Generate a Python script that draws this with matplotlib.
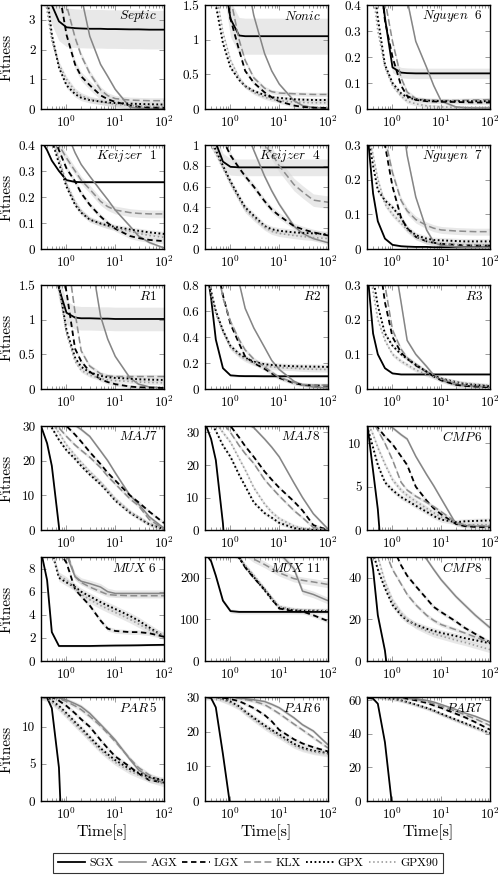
import numpy as np
import matplotlib
matplotlib.use("Agg")
import matplotlib.pyplot as plt
from matplotlib.lines import Line2D
from matplotlib.ticker import FuncFormatter, LogLocator, NullFormatter, FixedLocator

plt.rcParams['font.family'] = ['cmr10', 'DejaVu Serif']
plt.rcParams['mathtext.fontset'] = 'cm'
plt.rcParams['axes.formatter.use_mathtext'] = True
plt.rcParams['axes.unicode_minus'] = False

# ---------------- data ----------------
T = [0.3, 0.4, 0.5, 0.7, 1, 1.5, 2, 3, 5, 7, 10, 20, 30, 50, 100]
SERIES = ["SGX", "AGX", "LGX", "KLX", "GPX", "GPX90"]

SEPTIC = [
    [4.2, 4.0, 3.5, 2.95, 2.75, 2.72, 2.71, 2.7, 2.7, 2.69, 2.69, 2.68, 2.68, 2.67, 2.67],
    [5, 5, 5, 5, 5, 5, 3.8, 2.45, 1.5, 1.1, 0.66, 0.06, 0.03, 0.02, 0.02],
    [5, 5, 5, 4, 2.5, 1.5, 1.1, 0.8, 0.46, 0.33, 0.24, 0.12, 0.08, 0.05, 0.04],
    [5, 5, 5, 5, 3.5, 2.4, 1.8, 1.2, 0.65, 0.45, 0.35, 0.3, 0.29, 0.28, 0.28],
    [5, 3.8, 2.5, 1.4, 0.8, 0.5, 0.38, 0.3, 0.25, 0.22, 0.2, 0.18, 0.17, 0.16, 0.15],
    [5, 3.3, 2.3, 1.5, 1.0, 0.6, 0.45, 0.33, 0.25, 0.2, 0.16, 0.12, 0.1, 0.09, 0.08],
]
SEPTIC_BAND = [0.65, 0.05, 0.15, 0.1, 0.1, 0.1]

NONIC = [
    [2, 2, 2, 2, 1.3, 1.06, 1.05, 1.05, 1.05, 1.05, 1.05, 1.05, 1.05, 1.05, 1.05],
    [3, 3, 3, 3, 3, 3, 2.0, 1.35, 0.8, 0.55, 0.36, 0.12, 0.05, 0.02, 0.01],
    [3, 3, 3, 2, 1.3, 0.85, 0.55, 0.38, 0.24, 0.17, 0.11, 0.05, 0.03, 0.02, 0.015],
    [3, 3, 3, 3, 1.6, 1.0, 0.7, 0.45, 0.3, 0.25, 0.23, 0.22, 0.215, 0.21, 0.21],
    [3, 1.8, 1.5, 0.95, 0.6, 0.42, 0.33, 0.26, 0.2, 0.17, 0.16, 0.14, 0.135, 0.13, 0.13],
    [3, 2.2, 1.7, 1.1, 0.7, 0.45, 0.33, 0.24, 0.17, 0.14, 0.12, 0.1, 0.095, 0.09, 0.09],
]
NONIC_BAND = [0.26, 0.02, 0.03, 0.03, 0.03, 0.03]

NGUYEN6 = [
    [0.6, 0.6, 0.6, 0.35, 0.16, 0.14, 0.138, 0.137, 0.137, 0.137, 0.137, 0.137, 0.137, 0.137, 0.137],
    [0.6, 0.6, 0.6, 0.6, 0.6, 0.6, 0.42, 0.26, 0.16, 0.09, 0.03, 0.008, 0.005, 0.004, 0.004],
    [0.6, 0.6, 0.6, 0.34, 0.2, 0.09, 0.05, 0.035, 0.03, 0.029, 0.028, 0.027, 0.026, 0.025, 0.025],
    [0.6, 0.6, 0.6, 0.42, 0.26, 0.12, 0.065, 0.04, 0.035, 0.034, 0.033, 0.033, 0.034, 0.035, 0.036],
    [0.6, 0.5, 0.35, 0.17, 0.1, 0.06, 0.045, 0.037, 0.033, 0.031, 0.03, 0.03, 0.03, 0.03, 0.03],
    [0.6, 0.45, 0.3, 0.16, 0.09, 0.05, 0.03, 0.02, 0.012, 0.01, 0.008, 0.006, 0.006, 0.005, 0.005],
]
NGUYEN6_BAND = [0.02, 0.005, 0.008, 0.008, 0.008, 0.008]

KEIJZER1 = [
    [0.42, 0.38, 0.34, 0.3, 0.265, 0.258, 0.257, 0.257, 0.257, 0.257, 0.257, 0.257, 0.257, 0.257, 0.257],
    [0.45, 0.45, 0.45, 0.45, 0.45, 0.37, 0.325, 0.28, 0.225, 0.19, 0.15, 0.088, 0.05, 0.025, 0.004],
    [0.45, 0.45, 0.45, 0.38, 0.31, 0.26, 0.215, 0.17, 0.125, 0.1, 0.078, 0.05, 0.042, 0.035, 0.03],
    [0.45, 0.45, 0.45, 0.4, 0.35, 0.3, 0.265, 0.23, 0.183, 0.163, 0.15, 0.14, 0.137, 0.135, 0.135],
    [0.5, 0.46, 0.42, 0.33, 0.24, 0.17, 0.14, 0.113, 0.098, 0.09, 0.085, 0.075, 0.07, 0.064, 0.058],
    [0.5, 0.46, 0.43, 0.35, 0.25, 0.18, 0.145, 0.115, 0.097, 0.088, 0.08, 0.068, 0.06, 0.052, 0.045],
]
KEIJZER1_BAND = [0.005, 0.005, 0.01, 0.015, 0.01, 0.01]

KEIJZER4 = [
    [1.3, 1.15, 1.02, 0.84, 0.79, 0.785, 0.785, 0.785, 0.785, 0.785, 0.785, 0.785, 0.785, 0.785, 0.785],
    [1.3, 1.3, 1.3, 1.3, 1.3, 1.3, 1.15, 0.95, 0.7, 0.56, 0.43, 0.22, 0.15, 0.1, 0.06],
    [1.2, 1.2, 1.2, 1.05, 0.9, 0.78, 0.7, 0.6, 0.46, 0.38, 0.32, 0.22, 0.19, 0.16, 0.13],
    [1.2, 1.2, 1.2, 1.2, 1.2, 1.2, 1.2, 1.1, 1.0, 0.92, 0.8, 0.62, 0.55, 0.47, 0.45],
    [1.2, 1.05, 0.95, 0.8, 0.65, 0.5, 0.4, 0.32, 0.22, 0.19, 0.175, 0.16, 0.155, 0.15, 0.14],
    [1.2, 1.0, 0.92, 0.78, 0.63, 0.48, 0.38, 0.3, 0.21, 0.17, 0.15, 0.13, 0.12, 0.11, 0.1],
]
KEIJZER4_BAND = [0.08, 0.02, 0.03, 0.06, 0.03, 0.03]

NGUYEN7 = [
    [0.35, 0.16, 0.08, 0.03, 0.012, 0.008, 0.007, 0.006, 0.006, 0.005, 0.005, 0.005, 0.005, 0.005, 0.005],
    [0.4, 0.4, 0.4, 0.4, 0.4, 0.4, 0.27, 0.15, 0.055, 0.02, 0.01, 0.006, 0.005, 0.005, 0.005],
    [0.35, 0.35, 0.35, 0.3, 0.18, 0.09, 0.06, 0.035, 0.022, 0.018, 0.015, 0.012, 0.011, 0.01, 0.01],
    [0.4, 0.4, 0.4, 0.32, 0.22, 0.14, 0.11, 0.085, 0.068, 0.06, 0.055, 0.052, 0.051, 0.05, 0.05],
    [0.35, 0.24, 0.17, 0.14, 0.12, 0.09, 0.06, 0.04, 0.03, 0.026, 0.025, 0.023, 0.022, 0.022, 0.022],
    [0.35, 0.27, 0.2, 0.13, 0.1, 0.075, 0.055, 0.035, 0.022, 0.017, 0.015, 0.013, 0.012, 0.012, 0.012],
]
NGUYEN7_BAND = [0.003, 0.005, 0.008, 0.01, 0.008, 0.008]

R1 = [
    [2, 2, 2, 1.45, 1.1, 1.03, 1.02, 1.02, 1.015, 1.015, 1.01, 1.01, 1.01, 1.01, 1.01],
    [2, 2, 2, 2, 2, 2, 2, 2, 1.05, 0.72, 0.47, 0.16, 0.07, 0.03, 0.015],
    [2, 2, 2, 2, 1.4, 0.58, 0.4, 0.25, 0.14, 0.1, 0.07, 0.035, 0.025, 0.02, 0.015],
    [2, 2, 2, 2, 2, 1.1, 0.55, 0.33, 0.22, 0.19, 0.18, 0.18, 0.18, 0.18, 0.18],
    [2, 2, 2, 1.5, 0.85, 0.45, 0.32, 0.24, 0.19, 0.17, 0.16, 0.15, 0.14, 0.135, 0.13],
    [2, 2, 2, 1.45, 0.8, 0.4, 0.27, 0.2, 0.15, 0.13, 0.12, 0.11, 0.1, 0.095, 0.09],
]
R1_BAND = [0.17, 0.02, 0.03, 0.03, 0.03, 0.03]

R2 = [
    [1, 0.7, 0.38, 0.16, 0.105, 0.1, 0.099, 0.099, 0.098, 0.098, 0.098, 0.098, 0.098, 0.098, 0.098],
    [1, 1, 1, 1, 1, 0.82, 0.62, 0.47, 0.32, 0.22, 0.15, 0.06, 0.03, 0.015, 0.008],
    [1, 1, 1, 0.72, 0.5, 0.35, 0.25, 0.2, 0.155, 0.12, 0.085, 0.045, 0.032, 0.028, 0.025],
    [1, 1, 1, 0.7, 0.52, 0.38, 0.3, 0.23, 0.17, 0.13, 0.09, 0.05, 0.035, 0.03, 0.03],
    [1, 0.75, 0.6, 0.45, 0.33, 0.27, 0.24, 0.21, 0.19, 0.185, 0.18, 0.175, 0.173, 0.172, 0.17],
    [1, 0.72, 0.58, 0.44, 0.32, 0.26, 0.23, 0.2, 0.18, 0.17, 0.165, 0.16, 0.155, 0.152, 0.15],
]
R2_BAND = [0.01, 0.01, 0.015, 0.015, 0.02, 0.02]

R3 = [
    [0.35, 0.16, 0.1, 0.06, 0.045, 0.042, 0.042, 0.042, 0.042, 0.042, 0.042, 0.042, 0.042, 0.042, 0.042],
    [0.4, 0.4, 0.4, 0.4, 0.4, 0.25, 0.14, 0.1, 0.065, 0.04, 0.025, 0.012, 0.009, 0.007, 0.005],
    [0.4, 0.4, 0.4, 0.25, 0.15, 0.105, 0.088, 0.068, 0.05, 0.036, 0.025, 0.012, 0.009, 0.007, 0.005],
    [0.4, 0.4, 0.4, 0.3, 0.17, 0.115, 0.09, 0.072, 0.05, 0.04, 0.03, 0.016, 0.012, 0.01, 0.007],
    [0.4, 0.32, 0.24, 0.16, 0.125, 0.1, 0.087, 0.07, 0.05, 0.038, 0.03, 0.02, 0.015, 0.012, 0.008],
    [0.4, 0.28, 0.2, 0.14, 0.1, 0.08, 0.07, 0.055, 0.042, 0.035, 0.028, 0.02, 0.017, 0.014, 0.01],
]
R3_BAND = [0.003, 0.005, 0.006, 0.006, 0.006, 0.006]

MAJ7 = [
    [30, 25, 18.5, 1, -30, -30, -30, -30, -30, -30, -30, -30, -30, -30, -30],
    [31, 31, 31, 31, 31, 30.2, 29, 27, 22.8, 20, 16.5, 10, 7.5, 3.8, 0.5],
    [31, 31, 31, 31, 30, 27.5, 25.5, 22.5, 19, 16.5, 14.3, 10, 8, 5.3, 2],
    [31, 31, 31, 29.5, 27, 24.5, 23, 21, 18, 15.5, 13.3, 9, 7, 3, 0.3],
    [31, 31, 29.5, 26, 23, 20.5, 18.5, 16, 13.2, 11, 8.5, 5, 3.5, 1.6, 0.3],
    [31, 31, 31, 28, 24.5, 21.5, 19.5, 16.8, 13.8, 11.5, 9, 5.3, 3.7, 1.8, 0.4],
]
MAJ7_BAND = [0.4, 0.5, 0.5, 0.5, 0.6, 0.6]

MAJ8 = [
    [33, 28, 21.5, 2, -30, -30, -30, -30, -30, -30, -30, -30, -30, -30, -30],
    [33, 33, 33, 33, 33, 33, 33, 31.5, 28, 25.5, 22.5, 14.5, 10, 5, 0.3],
    [33, 33, 33, 33, 32, 28.5, 25.8, 22.5, 18, 15.5, 13, 8.8, 6, 1.5, 0],
    [33, 33, 33, 33, 30, 26, 23.5, 20.5, 15.5, 13, 10.5, 6, 3.8, 0.8, 0],
    [33, 33, 30.5, 26, 22.5, 17, 13.5, 8.5, 5.2, 3.8, 2.2, 0.6, 0.2, 0.05, 0],
    [33, 33, 33, 30, 27, 22, 18.5, 13, 8, 5.5, 3.5, 1.2, 0.5, 0.2, 0],
]
MAJ8_BAND = [0.4, 0.5, 0.5, 0.5, 0.6, 0.6]

CMP6 = [
    [12.5, 6.8, 2.4, -8, -8, -8, -8, -8, -8, -8, -8, -8, -8, -8, -8],
    [12.5, 12.5, 12.5, 12.5, 11.8, 11, 10.5, 8.5, 6.4, 5.1, 3.6, 0.7, 0.5, 0.45, 0.4],
    [12.5, 12.3, 11.8, 10.8, 9.9, 8.5, 7.5, 5, 3.4, 2.5, 1.8, 0.7, 0.45, 0.35, 0.3],
    [12.5, 12.5, 11.5, 10, 8.1, 5.5, 4.6, 3.9, 3.2, 2.7, 2.1, 0.9, 0.6, 0.5, 0.5],
    [12, 9.5, 7.5, 5.5, 4.6, 3.8, 3.4, 2.8, 2.1, 1.6, 1.2, 0.9, 1.0, 1.05, 1.1],
    [12.5, 11, 9.5, 7.6, 5.8, 4.6, 4, 3.3, 2.5, 2, 1.5, 0.8, 0.6, 0.6, 0.6],
]
CMP6_BAND = [0.2, 0.2, 0.2, 0.2, 0.3, 0.3]

MUX6 = [
    [9.5, 7, 2.5, 1.3, 1.3, 1.3, 1.3, 1.3, 1.32, 1.33, 1.34, 1.35, 1.36, 1.38, 1.4],
    [9.5, 9.5, 9.5, 9.5, 9.2, 7.3, 6.9, 6.7, 6.4, 6.0, 5.85, 5.85, 5.85, 5.85, 5.85],
    [9.5, 9.5, 9.5, 9.5, 8.5, 6.2, 5.6, 4.8, 3.5, 2.8, 2.6, 2.5, 2.5, 2.4, 2.1],
    [9.5, 9.5, 9.5, 9.5, 9.5, 7.3, 6.8, 6.4, 6.0, 5.75, 5.7, 5.65, 5.65, 5.65, 5.65],
    [9.5, 9.5, 9.5, 7.2, 6.8, 6.4, 6.0, 5.6, 5.1, 4.8, 4.5, 3.9, 3.5, 2.9, 2.1],
    [9.5, 9.5, 9.5, 7.4, 7.0, 6.3, 5.8, 5.3, 4.8, 4.5, 4.2, 3.6, 3.2, 2.7, 2.2],
]
MUX6_BAND = [0.1, 0.3, 0.2, 0.2, 0.3, 0.3]

MUX11 = [
    [260, 240, 205, 145, 120, 118, 118, 118, 118, 118, 118, 118, 118, 118, 118],
    [260, 260, 260, 260, 260, 260, 260, 260, 260, 260, 260, 222, 168, 160, 145],
    [260, 260, 260, 260, 260, 250, 225, 200, 172, 150, 126, 120, 119, 110, 96],
    [260, 260, 260, 260, 260, 260, 260, 245, 232, 222, 212, 198, 194, 190, 184],
    [260, 260, 260, 260, 258, 248, 226, 202, 170, 148, 128, 122, 121, 121, 120],
    [260, 260, 260, 260, 260, 250, 230, 206, 174, 152, 131, 124, 123, 122, 122],
]
MUX11_BAND = [5, 8, 5, 8, 5, 5]

CMP8 = [
    [62, 44, 22, 5, -25, -25, -25, -25, -25, -25, -25, -25, -25, -25, -25],
    [55, 55, 55, 55, 55, 55, 55, 55, 49, 44, 39, 31, 27, 22, 16],
    [55, 55, 55, 55, 55, 46, 41, 36, 30, 26, 23.5, 19, 16, 13, 9],
    [55, 55, 55, 53, 44, 37, 32, 27, 22, 19.5, 17.5, 15, 13.5, 11.5, 9],
    [55, 52, 44, 35, 27, 22, 19.5, 17.5, 15.5, 14.5, 13.5, 12, 11, 10, 8.5],
    [55, 55, 50, 38, 29, 23, 20, 17, 14.5, 13, 12, 10, 9, 7.5, 5.5],
]
CMP8_BAND = [1, 1, 1, 1, 1.5, 1.5]

PAR5 = [
    [14, 13.9, 12.5, 4.5, -20, -20, -20, -20, -20, -20, -20, -20, -20, -20, -20],
    [14, 14, 14, 13.9, 13.6, 13.1, 12.7, 11.8, 10.3, 9.3, 8.2, 5.6, 4.2, 3.2, 2.4],
    [14, 14, 14, 13.5, 12.8, 11.8, 11, 10, 8.2, 7.1, 6, 4.6, 3.7, 2.8, 2.5],
    [14, 14, 14, 13.8, 13.4, 12.8, 12.3, 11.4, 10.1, 9.1, 8.0, 5.7, 4.5, 3.5, 2.6],
    [14, 14, 13.5, 12.8, 11.8, 10.6, 9.8, 8.6, 7.1, 6.3, 5.5, 4.3, 3.8, 3.2, 2.8],
    [14, 13.8, 13.3, 12.5, 11.5, 10.3, 9.5, 8.3, 6.8, 6, 5.2, 4.0, 3.5, 2.9, 2.3],
]
PAR5_BAND = [0.2, 0.3, 0.3, 0.3, 0.4, 0.4]

PAR6 = [
    [30, 29.7, 27, 13.5, -2, -30, -30, -30, -30, -30, -30, -30, -30, -30, -30],
    [30, 30, 30, 30, 30, 29.8, 29.5, 29.2, 28.7, 27.9, 26.9, 24, 22, 20.2, 16.2],
    [30, 30, 30, 29.8, 29.4, 28.8, 28, 26.8, 24.8, 23, 20.5, 17.8, 16.6, 15.5, 14.3],
    [30, 30, 30, 30, 30, 29.6, 29.3, 28.8, 27.8, 26.6, 25.2, 22.2, 20.5, 18.3, 15.3],
    [30, 30, 30, 29.4, 28.6, 27.3, 25.8, 24, 21.8, 20.5, 19.2, 16.5, 15.4, 14.5, 13.8],
    [30, 30, 30, 29.2, 28.3, 27, 25.5, 23.6, 21.3, 20, 18.7, 16, 15, 14.2, 13.5],
]
PAR6_BAND = [0.3, 0.5, 0.5, 0.5, 0.8, 0.8]

PAR7 = [
    [61.5, 61, 58, 35, -5, -30, -30, -30, -30, -30, -30, -30, -30, -30, -30],
    [62, 62, 62, 62, 62, 61.8, 61.5, 61, 60, 59, 57.5, 54.5, 52.5, 50.5, 47],
    [62, 62, 62, 62, 62, 61.5, 61, 60, 58.5, 57, 55.5, 52, 50, 47, 42.5],
    [62, 62, 62, 62, 62, 61.6, 61.3, 60.6, 59.3, 58, 56.5, 53.5, 51.5, 49, 45],
    [62, 62, 62, 61.5, 61, 60, 59, 57.5, 55.5, 54, 52, 48.5, 46.5, 44, 40.5],
    [62, 62, 62, 61.3, 60.8, 59.8, 58.8, 57.3, 55.2, 53.6, 51.6, 48, 46, 43.5, 40],
]
PAR7_BAND = [0.5, 0.8, 0.8, 0.8, 1.0, 1.0]

TITLES = [r"$Septic$", r"$Nonic$", r"$Nguyen\ \ 6$",
          r"$Keijzer\ \ 1$", r"$Keijzer\ \ 4$", r"$Nguyen\ \ 7$",
          r"$R1$", r"$R2$", r"$R3$",
          r"$MAJ7$", r"$MAJ\,8$", r"$CMP\,6$",
          r"$MUX\ 6$", r"$MUX\ 11$", r"$CMP\,8$",
          r"$PAR\,5$", r"$PAR\,6$", r"$PAR7$"]
YMAX = [3.5, 1.5, 0.4, 0.4, 1.0, 0.3, 1.5, 0.8, 0.3,
        30, 32, 12, 9, 250, 50, 14, 30, 62]
YTICKS = [[0, 1, 2, 3], [0, 0.5, 1, 1.5], [0, 0.1, 0.2, 0.3, 0.4],
          [0, 0.1, 0.2, 0.3, 0.4], [0, 0.2, 0.4, 0.6, 0.8, 1], [0, 0.1, 0.2, 0.3],
          [0, 0.5, 1, 1.5], [0, 0.2, 0.4, 0.6, 0.8], [0, 0.1, 0.2, 0.3],
          [0, 10, 20, 30], [0, 10, 20, 30], [0, 5, 10],
          [0, 2, 4, 6, 8], [0, 100, 200], [0, 20, 40],
          [0, 5, 10], [0, 10, 20, 30], [0, 20, 40, 60]]
PANELS = [(SEPTIC, SEPTIC_BAND), (NONIC, NONIC_BAND), (NGUYEN6, NGUYEN6_BAND),
          (KEIJZER1, KEIJZER1_BAND), (KEIJZER4, KEIJZER4_BAND), (NGUYEN7, NGUYEN7_BAND),
          (R1, R1_BAND), (R2, R2_BAND), (R3, R3_BAND),
          (MAJ7, MAJ7_BAND), (MAJ8, MAJ8_BAND), (CMP6, CMP6_BAND),
          (MUX6, MUX6_BAND), (MUX11, MUX11_BAND), (CMP8, CMP8_BAND),
          (PAR5, PAR5_BAND), (PAR6, PAR6_BAND), (PAR7, PAR7_BAND)]

# ---------------- styles ----------------
STYLES = [
    dict(color='black', lw=1.3, ls='-'),
    dict(color='#858585', lw=1.1, ls='-'),
    dict(color='black', lw=1.3, ls=(0, (3.0, 2.0))),
    dict(color='#8c8c8c', lw=1.1, ls=(0, (4.5, 2.2))),
    dict(color='black', lw=1.4, ls=(0, (0.9, 1.3))),
    dict(color='#9a9a9a', lw=1.2, ls=(0, (0.9, 1.6))),
]
BAND_COLOR = '#d6d6d6'

W, H = 499, 875
fig = plt.figure(figsize=(W / 100, H / 100), dpi=100)

col_left = [41, 205, 367]
row_top = [5, 145, 285, 426, 557, 697]
aw, ah = 123, 104

tvals = np.array(T)
for i, ((data, band), title, ymax, yt) in enumerate(zip(PANELS, TITLES, YMAX, YTICKS)):
    r, c = divmod(i, 3)
    ax = fig.add_axes([col_left[c] / W, 1 - (row_top[r] + ah) / H, aw / W, ah / H])
    ax.set_xscale('log')
    for vals, b in zip(data, band):
        v = np.array(vals, dtype=float)
        ax.fill_between(tvals, v - b, v + b, color=BAND_COLOR, alpha=0.55, lw=0, zorder=1)
    for vals, st in zip(data, STYLES):
        ax.plot(tvals, vals, zorder=3, solid_capstyle='butt', dash_capstyle='butt', **st)
    ax.set_xlim(0.3, 100)
    ax.set_ylim(0, ymax)
    ax.yaxis.set_major_locator(FixedLocator(yt))
    ax.yaxis.set_major_formatter(FuncFormatter(lambda v, p: '%g' % v))
    ax.xaxis.set_major_locator(FixedLocator([1, 10, 100]))
    ax.xaxis.set_minor_locator(LogLocator(base=10, subs=np.arange(2, 10)))
    ax.xaxis.set_minor_formatter(NullFormatter())
    ax.tick_params(which='both', direction='in', top=True, right=True,
                   color='#8a8a8a', width=0.6, labelsize=9.5, pad=4)
    ax.tick_params(which='major', length=3.5)
    ax.tick_params(which='minor', length=2)
    for s in ax.spines.values():
        s.set_linewidth(1.0)
        s.set_color('black')
        s.set_zorder(5)
    ax.text(1 - 7 / aw, 1 - 11 / ah, title, transform=ax.transAxes,
            ha='right', va='center', fontsize=9.5, zorder=6)
    if c == 0:
        ax.set_ylabel('Fitness', fontsize=11)
        ax.yaxis.set_label_coords(-27 / aw, 0.5)
    if r == 5:
        ax.text(0.5, -31 / ah, 'Time[s]', transform=ax.transAxes,
                ha='center', va='center', fontsize=11.5)

handles = [Line2D([], [], **st) for st in STYLES]
leg = fig.legend(handles, SERIES, loc='center', bbox_to_anchor=(248 / W, 1 - 863 / H),
                 ncol=6, frameon=True, fancybox=False, edgecolor='black', fontsize=8.5,
                 handlelength=2.3, columnspacing=0.45, handletextpad=0.35, borderpad=0.4)
leg.get_frame().set_linewidth(0.8)

fig.savefig('out.png', dpi=100)
